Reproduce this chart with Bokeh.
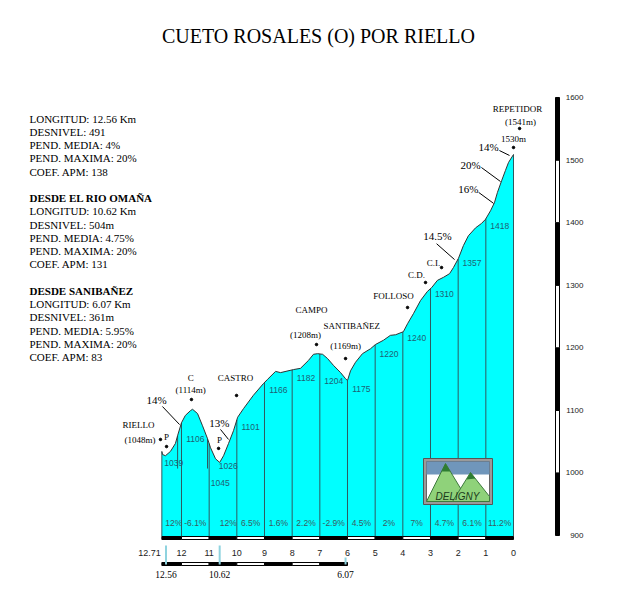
import numpy as np
from bokeh.plotting import figure
from bokeh.models import Range1d
from bokeh.core.properties import value
from bokeh.embed import file_html
from bokeh.resources import INLINE

# ---------------- data ----------------
TITLE = "CUETO ROSALES (O) POR RIELLO"

# profile: km remaining to summit, elevation (m)
PROFILE_KM = [12.71, 12.685, 12.58, 12.40, 12.22, 12.14, 12.0, 11.86, 11.67, 11.60,
              11.42, 11.24, 11.06, 10.95, 10.77, 10.62, 10.48, 10.30, 10.12, 9.97,
              9.76, 9.40, 9.04, 8.89, 8.60, 8.42, 7.95, 7.70, 7.41, 7.23,
              7.08, 6.90, 6.72, 6.51, 6.25, 6.07, 6.0, 5.89, 5.71, 5.46,
              5.17, 4.99, 4.70, 4.45, 4.26, 3.98, 3.83, 3.61, 3.36, 3.11,
              2.96, 2.75, 2.53, 2.31, 2.17, 1.99, 1.81, 1.63, 1.37, 1.16,
              1.01, 0.83, 0.69, 0.58, 0.43, 0.29, 0.18, 0.0]
PROFILE_ELEV = [1044, 1039, 1037, 1044, 1057, 1070, 1091, 1103, 1111, 1113,
                1106, 1086, 1065, 1050, 1032, 1026, 1037, 1057, 1078, 1100,
                1114, 1136, 1155, 1162, 1175, 1173, 1178, 1180, 1193, 1203,
                1204, 1203, 1196, 1185, 1173, 1163, 1160, 1176, 1190, 1204,
                1212, 1219, 1226, 1234, 1235, 1240, 1253, 1270, 1291, 1306,
                1312, 1324, 1329, 1335, 1345, 1360, 1381, 1397, 1410, 1417,
                1424, 1438, 1451, 1468, 1487, 1504, 1517, 1530]

# km columns
COL_KM = [12.71, 12, 11, 10, 9, 8, 7, 6, 5, 4, 3, 2, 1, 0]
KM_LABELS = ["12.71", "12", "11", "10", "9", "8", "7", "6", "5", "4", "3", "2", "1", "0"]
MARK_KM = [12.14, 11.06]

# per-segment values
SEG_FROM = [12.56, 12, 10.62, 10, 9, 8, 7, 6, 5, 4, 3, 2, 1]
SEG_TO = [12, 11, 10, 9, 8, 7, 6, 5, 4, 3, 2, 1, 0]
SEG_ELEV = ["1039", "1106", "1026", "1101", "1166", "1182", "1204", "1175",
            "1220", "1240", "1310", "1357", "1418"]
SEG_GRAD = ["12%", "-6.1%", "12%", "6.5%", "1.6%", "2.2%", "-2.9%", "4.5%",
            "2%", "7%", "4.7%", "6.1%", "11.2%"]
EXTRA_ELEV = "1045"

# start points
START_KM = [12.56, 10.62, 6.07]
START_LABELS = ["12.56", "10.62", "6.07"]
RULER2_KM = [12.71, 12, 11, 10, 9, 8, 7, 6]

# places
PLACE_TEXT = ["RIELLO", "(1048m)", "P", "C", "(1114m)", "CASTRO", "P", "CAMPO", "(1208m)",
              "SANTIBAÑEZ", "(1169m)", "FOLLOSO", "C.D.", "C.I.", "REPETIDOR",
              "(1541m)", "1530m"]
PLACE_KM = [13.55, 13.50, 12.54, 11.67, 11.67, 10.05, 10.63, 7.30, 7.52,
            5.85, 6.07, 4.34, 3.51, 2.89, -0.145, -0.25, 0.0]
PLACE_Y = [1088, 1062, 1067, 1165, 1145, 1165, 1062, 1276, 1235,
           1248.5, 1216, 1299, 1332, 1353, 1605, 1584, 1556]
DOT_KM = [12.76, 12.54, 11.64, 10.01, 10.66, 7.12, 6.07, 3.83, 3.18, 2.60, -0.22, 0.0]
DOT_Y = [1063.6, 1052, 1129, 1135.6, 1049, 1219, 1196, 1279.6, 1320.5, 1345, 1572.6, 1541.5]

# steep pitches (callouts)
PITCH_TEXT = ["14%", "13%", "14.5%", "16%", "20%", "14%"]
PITCH_KM = [12.90, 10.63, 2.75, 1.63, 1.55, 0.90]
PITCH_Y = [1129, 1090, 1396, 1473, 1512, 1541.5]
LEAD_KM0 = [12.69, 10.59, 2.78, 1.26, 1.16, 0.51]
LEAD_Y0 = [1117.6, 1080, 1384, 1468, 1508.7, 1536.5]
LEAD_KM1 = [12.07, 10.30, 2.13, 0.72, 0.47, 0.145]
LEAD_Y1 = [1088, 1063.6, 1358, 1450, 1485.8, 1528.4]

# elevation scale
SCALE_TICKS = [900, 1000, 1100, 1200, 1300, 1400, 1500, 1600]

# summary
STATS = [
    [("LONGITUD: 12.56 Km", False), ("DESNIVEL: 491", False), ("PEND. MEDIA: 4%", False),
     ("PEND. MAXIMA: 20%", False), ("COEF. APM: 138", False)],
    [("DESDE EL RIO OMAÑA", True), ("LONGITUD: 10.62 Km", False), ("DESNIVEL: 504m", False),
     ("PEND. MEDIA: 4.75%", False), ("PEND. MAXIMA: 20%", False), ("COEF. APM: 131", False)],
    [("DESDE SANIBAÑEZ", True), ("LONGITUD: 6.07 Km", False), ("DESNIVEL: 361m", False),
     ("PEND. MEDIA: 5.95%", False), ("PEND. MAXIMA: 20%", False), ("COEF. APM: 83", False)],
]

# ---------------- layout ----------------
W, H = 624, 582
BASE = 905
SERIF = value("Liberation Serif")
SANS = value("Liberation Sans")
CYAN = "#00FFFF"

p = figure(width=W, height=H, output_backend="svg", toolbar_location=None, title=None,
           x_range=Range1d(18.542, -4.012), y_range=Range1d(829.5, 1782.05),
           x_axis_type=None, y_axis_type=None, min_border=0)
p.extra_x_ranges = {"px": Range1d(0, W)}
p.extra_y_ranges = {"px": Range1d(H, 0), "scale": Range1d(824.9, 1755.0)}
p.outline_line_color = None
p.background_fill_color = "white"
p.border_fill_color = "white"

# title
p.text(x=[318], y=[35], text=[TITLE], x_range_name="px", y_range_name="px",
       text_font=SERIF, text_font_size="20px", text_align="center",
       text_baseline="middle", text_color="black")

# profile
p.varea(x=PROFILE_KM, y1=BASE, y2=PROFILE_ELEV, fill_color=CYAN)
rev_km = PROFILE_KM[::-1]
rev_el = PROFILE_ELEV[::-1]
col_top = np.interp(COL_KM, rev_km, rev_el)
p.segment(x0=COL_KM, y0=BASE, x1=COL_KM, y1=col_top, line_color="#2f5a60", line_width=1)
mark_top = np.interp(MARK_KM, rev_km, rev_el)
p.segment(x0=MARK_KM, y0=1016, x1=MARK_KM, y1=mark_top, line_color="#2f5a60", line_width=1)
p.line(PROFILE_KM, PROFILE_ELEV, line_color="#333333", line_width=1)

# km strip under profile
strip_col = ["black" if i % 2 == 0 else "white" for i in range(len(COL_KM) - 1)]
p.quad(left=COL_KM[:-1], right=COL_KM[1:], top=536, bottom=539, y_range_name="px",
       fill_color=strip_col, line_color="black", line_width=1)

# segment labels
seg_mid = [(a + b) / 2 for a, b in zip(SEG_FROM, SEG_TO)]
ELEV_LABEL_PX = [462, 438, 465, 426, 389, 377, 380, 388, 353, 337, 293, 262, 225]
p.text(x=seg_mid, y=ELEV_LABEL_PX, text=SEG_ELEV, y_range_name="px",
       text_font=SANS, text_font_size="8.5px", text_align="center",
       text_baseline="middle", text_color="#1f5f74")
p.text(x=[10.6], y=[482], text=[EXTRA_ELEV], y_range_name="px",
       text_font=SANS, text_font_size="8.5px", text_align="center",
       text_baseline="middle", text_color="#1f5f74")
p.text(x=seg_mid, y=[522] * len(seg_mid), text=SEG_GRAD, y_range_name="px",
       text_font=SANS, text_font_size="8.5px", text_align="center",
       text_baseline="middle", text_color="#3c5a60")

# km labels
p.text(x=COL_KM[1:], y=[552] * (len(COL_KM) - 1), text=KM_LABELS[1:], y_range_name="px",
       text_font=SANS, text_font_size="9px", text_align="center",
       text_baseline="middle", text_color="#222222")
p.text(x=COL_KM[:1], y=[552], text=KM_LABELS[:1], y_range_name="px",
       text_font=SANS, text_font_size="9px", text_align="right", x_offset=-1,
       text_baseline="middle", text_color="#222222")

# second ruler
r2_col = ["black" if i % 2 == 0 else "white" for i in range(len(RULER2_KM) - 1)]
p.quad(left=RULER2_KM[:-1], right=RULER2_KM[1:], top=562, bottom=565, y_range_name="px",
       fill_color=r2_col, line_color="black", line_width=1)
p.segment(x0=START_KM, y0=[545, 545, 557], x1=START_KM, y1=[564, 564, 564],
          y_range_name="px", line_color="#8fd3df", line_width=2)
p.text(x=START_KM, y=[574] * 3, text=START_LABELS, y_range_name="px",
       text_font=SERIF, text_font_size="9.5px", text_align="center",
       text_baseline="middle", text_color="black")

# place names and dots
p.text(x=PLACE_KM, y=PLACE_Y, text=PLACE_TEXT, text_font=SERIF, text_font_size="9px",
       text_align="center", text_baseline="middle", text_color="black")
p.scatter(x=DOT_KM, y=DOT_Y, marker="circle", size=2.5, color="black")

# pitch callouts
p.segment(x0=LEAD_KM0, y0=LEAD_Y0, x1=LEAD_KM1, y1=LEAD_Y1, line_color="black", line_width=1)
p.text(x=PITCH_KM, y=PITCH_Y, text=PITCH_TEXT, text_font=SERIF, text_font_size="11px",
       text_align="center", text_baseline="middle", text_color="black")

# elevation scale bar
sc_col = ["black" if i % 2 == 0 else "white" for i in range(len(SCALE_TICKS) - 1)]
p.quad(left=555, right=559, bottom=SCALE_TICKS[:-1], top=SCALE_TICKS[1:],
       x_range_name="px", y_range_name="scale", fill_color=sc_col,
       line_color="black", line_width=1)
p.text(x=[583] * len(SCALE_TICKS), y=SCALE_TICKS, text=[str(t) for t in SCALE_TICKS],
       x_range_name="px", y_range_name="scale", text_font=SANS, text_font_size="8px",
       text_align="right", text_baseline="middle", text_color="#222222")

# summary text block
sx, sy, st, sb = [], [], [], []
line_i = 0
for block in STATS:
    for txt, bold in block:
        sx.append(29)
        sy.append(118 + line_i * 13.25)
        st.append(txt)
        sb.append(bold)
        line_i += 1
    line_i += 1
norm = [i for i, b in enumerate(sb) if not b]
bold = [i for i, b in enumerate(sb) if b]
p.text(x=[sx[i] for i in norm], y=[sy[i] for i in norm], text=[st[i] for i in norm],
       x_range_name="px", y_range_name="px", text_font=SERIF, text_font_size="11px",
       text_align="left", text_baseline="middle", text_color="black")
p.text(x=[sx[i] for i in bold], y=[sy[i] for i in bold], text=[st[i] for i in bold],
       x_range_name="px", y_range_name="px", text_font=SERIF, text_font_size="11px",
       text_font_style="bold", text_align="left", text_baseline="middle", text_color="black")

# logo
p.quad(left=423, right=492, top=458, bottom=504, x_range_name="px", y_range_name="px",
       fill_color="#9a9a9a", line_color="#555555")
p.quad(left=426, right=489, top=461, bottom=501, x_range_name="px", y_range_name="px",
       fill_color="white", line_color="#666666")
p.quad(left=426, right=489, top=461, bottom=474, x_range_name="px", y_range_name="px",
       fill_color="#7096bb", line_color=None)
p.patches(xs=[[426, 445, 468], [452, 470, 489, 489]], ys=[[501, 463, 501], [501, 472, 496, 501]],
          x_range_name="px", y_range_name="px", fill_color="#8fd27a", line_color="#3d7a3d")
p.patches(xs=[[441, 445, 450], [466, 470, 475]], ys=[[471, 463, 471], [479, 472, 478]],
          x_range_name="px", y_range_name="px", fill_color="#2e7d32", line_color=None)
p.text(x=[457], y=[496], text=["DELIGNY"], x_range_name="px", y_range_name="px",
       text_font=SANS, text_font_size="10px", text_font_style="italic",
       text_align="center", text_baseline="middle", text_color="#1b3b1b")

open("out.html", "w").write(file_html(p, INLINE))
